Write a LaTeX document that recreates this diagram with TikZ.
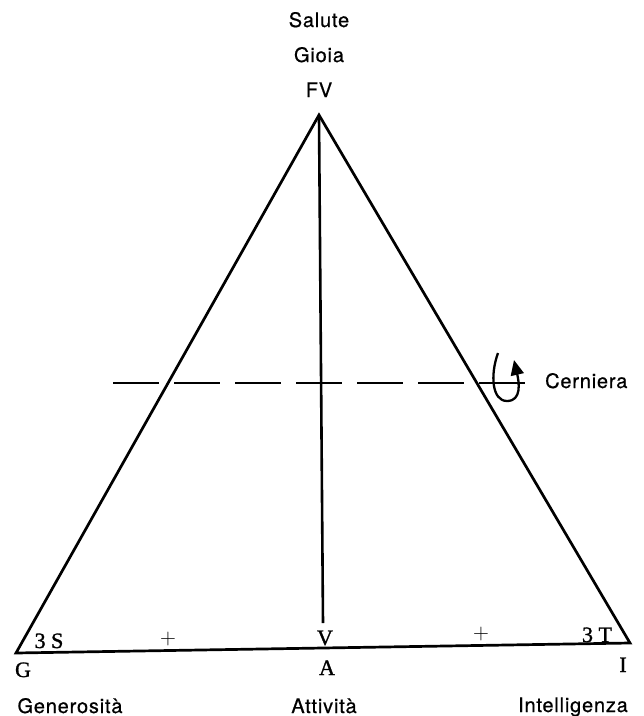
\documentclass[tikz,border=0pt]{standalone}
\usepackage{fontspec}
\usetikzlibrary{arrows.meta}
\newfontfamily\lblsans[LetterSpace=4,FakeBold=0.6]{TeX Gyre Heros}
\newfontfamily\lblserif[FakeBold=1.2]{Liberation Serif}
\tikzset{
  edge/.style={line width=2.7pt, line join=miter},
  axis/.style={line width=2.6pt},
  hingeaxis/.style={line width=2.4pt, dash pattern=on 46pt off 15pt},
  hingearrow/.style={line width=2.3pt, -{Triangle[length=15pt,width=13pt]}},
  sanslbl/.style={inner sep=0pt, anchor=base, font=\lblsans\fontsize{20}{24}\selectfont},
  seriflbl/.style={inner sep=0pt, anchor=base, font=\lblserif\fontsize{22}{26}\selectfont},
  plus/.style={inner sep=0pt, font=\fontsize{22}{26}\selectfont},
}
\begin{document}
\begin{tikzpicture}[x=1pt,y=-1pt]
\useasboundingbox (0,0) rectangle (644,716);
% vertices
\coordinate (FV) at (319,115);
\coordinate (G) at (16,653);
\coordinate (I) at (630,643);
\coordinate (Vb) at (323,623);
\coordinate (FVv) at (319,117);
% triangle
\draw[edge] (FV) -- (I) -- (G) -- cycle;
% vertical
\draw[axis] (FVv) -- (Vb);
% hinge line
\coordinate (HL) at (113,383);
\coordinate (HR) at (527,383);
\draw[hingeaxis] (HL) -- (HR);
% hinge rotation symbol
\coordinate (h1) at (498,353);
\coordinate (h2) at (507,401);
\coordinate (h3) at (514,360);
\draw[hingearrow] (h1) .. controls (490,375) and (492,401) .. (h2)
  .. controls (522,401) and (519,382) .. (h3);
% top labels
\node[sanslbl] (salute) at (319,27) {Salute};
\node[sanslbl] (gioia) at (319,62) {Gioia};
\node[sanslbl] (fv) at (319,97) {FV};
\node[sanslbl, anchor=base west] (cerniera) at (545,388) {Cerniera};
% bottom labels
\node[sanslbl] (gen) at (70,713) {Generosità};
\node[sanslbl] (att) at (324,713) {Attività};
\node[sanslbl] (int) at (573,712) {Intelligenza};
% serif labels
\node[seriflbl] (Glbl) at (23,677) {G};
\node[seriflbl] (Albl) at (327,675) {A};
\node[seriflbl] (Ilbl) at (623,672) {I};
\node[seriflbl] (Vlbl) at (325,645) {V};
\node[seriflbl] (S3) at (49,648) {3 S};
\node[seriflbl] (T3) at (597,642) {3 T};
\node[plus] (p1) at (168,639) {+};
\node[plus] (p2) at (481,634) {+};
\end{tikzpicture}
\end{document}
